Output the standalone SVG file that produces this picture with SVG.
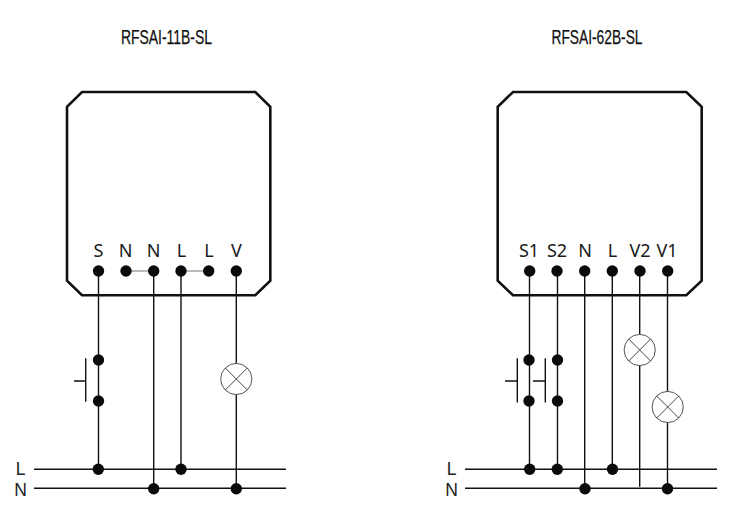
<svg xmlns="http://www.w3.org/2000/svg" width="730" height="524" viewBox="0 0 730 524">
<style>
.box{fill:#fff;stroke:#111;stroke-width:2.6;stroke-linejoin:miter}
.w{stroke:#111;stroke-width:1.4;fill:none}
.g{stroke:#777;stroke-width:1.2;fill:none}
.lamp{fill:#fff;stroke:#555;stroke-width:1}
.x{stroke:#333;stroke-width:.9;fill:none}
.d{fill:#0a0a0a}
.title{font-family:"Liberation Sans Narrow","Liberation Sans",sans-serif;font-size:19.500px;fill:#111;stroke:#111;stroke-width:.25;text-anchor:middle}
.t{font-family:"Noto Sans",sans-serif;font-size:18px;fill:#1a1a1a;text-anchor:middle}
.b{font-family:"Liberation Sans",sans-serif;font-size:17.500px;fill:#222;text-anchor:middle}
</style>
<defs>
<circle id="dot" class="d" r="5.7"/>
<g id="lampg"><circle class="lamp" r="15.6"/><path class="x" d="M-11-11 11 11M-11 11 11-11"/></g>
</defs>
<g id="title-left"><text class="title" x="166.500" y="44" textLength="91" lengthAdjust="spacingAndGlyphs">RFSAI-11B-SL</text></g>
<g id="title-right"><text class="title" x="597" y="44" textLength="91" lengthAdjust="spacingAndGlyphs">RFSAI-62B-SL</text></g>
<g id="module-left">
<path class="box" d="M82 92H255.300L270.300 106.700V280.700L255.300 295.300H82L67 280.700V106.700Z"/>
<text class="t" x="98.500" y="257">S</text><text class="t" x="125.500" y="257">N</text><text class="t" x="153.700" y="257">N</text><text class="t" x="181.500" y="257">L</text><text class="t" x="209" y="257">L</text><text class="t" x="236.500" y="257">V</text>
</g>
<g id="module-right">
<path class="box" d="M513 92H686.300L701.700 106.700V280.700L686.300 295.300H513L497.700 280.700V106.700Z"/>
<text class="t" x="529" y="257">S1</text><text class="t" x="557" y="257">S2</text><text class="t" x="585" y="257">N</text><text class="t" x="612.500" y="257">L</text><text class="t" x="640" y="257">V2</text><text class="t" x="667" y="257">V1</text>
</g>
<g id="connectors">
<path class="w" d="M98.500 271V469M153.700 271V489M181 271V469M236.300 271V489"/>
<path class="g" d="M126 271H153.700M181 271H208.700"/>
<path class="w" d="M34 469.300H286M34 488.300H286"/>
<path class="w" d="M85.700 358.300V401.700M74 381H85.700"/>
<path class="w" d="M529.500 271V469M557.500 271V469M584.700 271V489M612.300 271V469M639.700 271V486.700M667.500 271V489"/>
<path class="w" d="M465 469.300H717M465 488.300H717"/>
<path class="w" d="M517.300 358.300V402.500M505 381H517.300M545.300 358.300V402.500M533 381H545.300"/>
</g>
<g id="terminals-left">
<use href="#dot" x="98.500" y="271"/><use href="#dot" x="126" y="271"/><use href="#dot" x="153.700" y="271"/><use href="#dot" x="181" y="271"/><use href="#dot" x="208.700" y="271"/><use href="#dot" x="236.300" y="271"/>
</g>
<g id="terminals-right">
<use href="#dot" x="529.700" y="271"/><use href="#dot" x="557" y="271"/><use href="#dot" x="584.700" y="271"/><use href="#dot" x="612.300" y="271"/><use href="#dot" x="640" y="271"/><use href="#dot" x="667.700" y="271"/>
</g>
<g id="switch-left"><use href="#dot" x="98.500" y="360"/><use href="#dot" x="98.500" y="401"/></g>
<g id="switch-s1"><use href="#dot" x="529" y="360"/><use href="#dot" x="529" y="401"/></g>
<g id="switch-s2"><use href="#dot" x="557.500" y="360"/><use href="#dot" x="557.500" y="401"/></g>
<g id="lamp-v"><use href="#lampg" x="236.300" y="379"/></g>
<g id="lamp-v2"><use href="#lampg" x="639.700" y="350"/></g>
<g id="lamp-v1"><use href="#lampg" x="667.700" y="407"/></g>
<g id="bus-left">
<text class="b" x="20.500" y="475">L</text><text class="b" x="20.500" y="496">N</text>
<use href="#dot" x="98.300" y="469.300"/><use href="#dot" x="181" y="469.300"/><use href="#dot" x="153.700" y="488.800"/><use href="#dot" x="236.300" y="488.800"/>
</g>
<g id="bus-right">
<text class="b" x="451.500" y="475">L</text><text class="b" x="451.500" y="496">N</text>
<use href="#dot" x="529.700" y="469.300"/><use href="#dot" x="557.300" y="469.300"/><use href="#dot" x="612.500" y="469.300"/><use href="#dot" x="585" y="488.800"/><use href="#dot" x="667.500" y="488.800"/>
</g>
</svg>
